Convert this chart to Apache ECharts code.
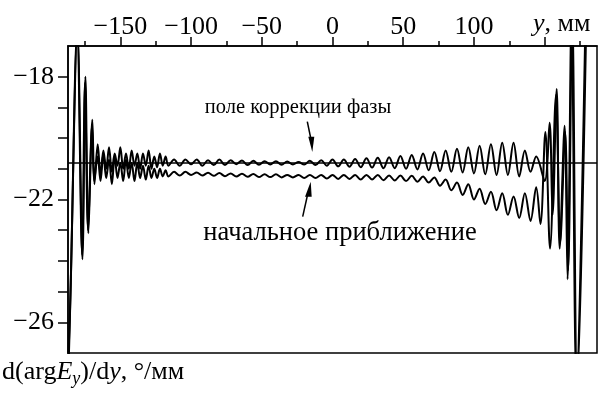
<!DOCTYPE html>
<html>
<head>
<meta charset="utf-8">
<script src="https://cdn.jsdelivr.net/npm/echarts@6/dist/echarts.min.js"></script>
<style>html,body{margin:0;padding:0;background:#fff}#c{width:598px;height:393px}</style>
</head>
<body>
<div id="c"></div>
<script>
// upper curve: "поле коррекции фазы"
const xA = [-188,-186.7,-185.3,-180.3,-176.8,-174.7,-172.6,-169.8,-168.3,
  -166,-164,-162,-160,-158,-156,-154,-152,-150,-148,-146,-144,-142,-140,-138,-136,-134,-132,-130,-128,-126,-124,-122,-120,-118,-116,
  -112,-108,-104,-100,-96,-92,-88,-84,-80,-76,-72,-68,-64,-60,-56,-52,-48,-44,-40,-36,-32,-28,-24,-20,-16,-12,-8,-4,
  0,4,8,12,16,20,24,28,32,36,40,44,48,52,56,60,64,68,72,76,80,84,88,92,96,100,104,108,112,116,120,124,128,132,136,140,144,
  150,153.5,155.6,158.5,160.6,164.1,166.2,169,172.5,178.9];
const yA = [-28.5,-27.5,-25.2,-16.5,-23.95,-18.0,-23.1,-19.4,-21.5,
  -20.2,-21.2,-20.4,-21.0,-20.3,-21.1,-20.5,-20.9,-20.3,-21.0,-20.5,-21.0,-20.4,-20.9,-20.5,-21.0,-20.5,-20.9,-20.4,-21.0,-20.6,-20.95,-20.5,-20.9,-20.6,-20.9,
  -20.7,-20.9,-20.7,-20.85,-20.7,-20.9,-20.72,-20.88,-20.7,-20.88,-20.72,-20.85,-20.73,-20.88,-20.74,-20.87,-20.75,-20.86,-20.75,-20.87,-20.76,-20.86,-20.78,-20.86,-20.74,-20.88,-20.72,-20.9,
  -20.7,-20.92,-20.7,-20.93,-20.68,-20.95,-20.66,-20.96,-20.64,-20.98,-20.62,-20.98,-20.58,-21.0,-20.55,-21.02,-20.5,-21.05,-20.45,-21.08,-20.4,-21.1,-20.35,-21.12,-20.3,-21.15,-20.25,-21.18,-20.2,-21.2,-20.15,-21.2,-20.15,-21.25,-20.4,-21.1,-20.6,
  -21.4,-19.5,-22.5,-18.4,-23.6,-19.6,-24.6,-16.0,-28.0,-16.0];
// lower curve: "начальное приближение"
const xB = [-188,-185.5,-180.5,-177,-175,-172.8,-170,-168.5,
  -166,-164,-162,-160,-158,-156,-154,-152,-150,-148,-146,-144,-142,-140,-138,-136,-134,-132,-130,-128,-126,-124,-122,-120,-118,-116,
  -112,-108,-104,-100,-96,-92,-88,-84,-80,-76,-72,-68,-64,-60,-56,-52,-48,-44,-40,-36,-32,-28,-24,-20,-16,-12,-8,-4,
  0,4,8,12,16,20,24,28,32,36,40,44,48,52,56,60,64,68,72,76,80,84,88,92,96,100,104,108,112,116,120,124,128,132,136,140,144,
  147,150.5,153.8,158,161,164.5,166.6,169.5,173,179.5];
const yB = [-28.5,-25.5,-16.5,-23.8,-18.2,-23.0,-19.6,-21.4,
  -20.6,-21.4,-20.5,-21.3,-20.7,-21.5,-20.6,-21.3,-20.8,-21.4,-20.7,-21.3,-20.8,-21.4,-20.8,-21.3,-20.9,-21.35,-20.9,-21.3,-21.0,-21.3,-21.0,-21.25,-21.05,-21.25,
  -21.1,-21.22,-21.1,-21.2,-21.12,-21.22,-21.13,-21.23,-21.14,-21.24,-21.15,-21.25,-21.16,-21.26,-21.17,-21.27,-21.18,-21.27,-21.18,-21.28,-21.2,-21.28,-21.2,-21.3,-21.2,-21.3,-21.2,-21.32,
  -21.2,-21.33,-21.2,-21.33,-21.2,-21.35,-21.2,-21.35,-21.2,-21.37,-21.22,-21.38,-21.22,-21.4,-21.23,-21.42,-21.25,-21.45,-21.28,-21.55,-21.35,-21.7,-21.45,-21.85,-21.5,-22.0,-21.65,-22.15,-21.75,-22.35,-21.8,-22.5,-21.9,-22.6,-21.8,-22.7,-21.6,
  -22.8,-19.8,-23.6,-18.6,-23.4,-19.8,-24.3,-16.0,-28.0,-16.0];
const refLevel = -20.8;
const xMajor = [-150,-100,-50,0,50,100,150];
const xLabels = [-150,-100,-50,0,50,100];
const xMinor = [-175,-125,-75,-25,25,75,125,175];
const yTicks = [-26,-25,-24,-23,-22,-21,-20,-19,-18];
const yLabels = [-26,-22,-18];

const FONT = 'Liberation Serif';
const minus = v => String(v).replace('-', '\u2212');
const chart = echarts.init(document.getElementById('c'), null, {renderer:'canvas'});
const pairs = (xs, ys) => xs.map((x, i) => [x, ys[i]]);
chart.setOption({
  animation: false,
  backgroundColor: '#fff',
  grid: {left: 68, right: 1, top: 46, bottom: 40, show: true, borderColor: '#000', borderWidth: 1.5, backgroundColor: 'transparent'},
  xAxis: [{
    type: 'value', position: 'top', min: -187, max: 187,
    axisLine: {show: true, onZero: false, lineStyle: {color: '#000', width: 1.5}},
    axisTick: {show: true, length: 9, customValues: xMajor, lineStyle: {color: '#000', width: 1.5}},
    axisLabel: {customValues: xLabels, formatter: minus, fontFamily: FONT, fontSize: 26, color: '#000', margin: 6},
    splitLine: {show: false}
  }, {
    type: 'value', position: 'top', min: -187, max: 187,
    axisLine: {show: false, onZero: false},
    axisTick: {show: true, length: 5, customValues: xMinor, lineStyle: {color: '#000', width: 1.5}},
    axisLabel: {show: false}, splitLine: {show: false}
  }],
  yAxis: {
    type: 'value', position: 'left', min: -27, max: -17,
    axisLine: {show: true, onZero: false, lineStyle: {color: '#000', width: 1.5}},
    axisTick: {show: true, length: 10, customValues: yTicks, lineStyle: {color: '#000', width: 1.5}},
    axisLabel: {customValues: yLabels, formatter: minus, fontFamily: FONT, fontSize: 26, color: '#000', margin: 14},
    splitLine: {show: false}
  },
  series: [{
    type: 'line', xAxisIndex: 0, data: pairs(xA, yA), symbol: 'none', smooth: 0.35,
    lineStyle: {color: '#000', width: 2},
    markLine: {silent: true, symbol: 'none', label: {show: false}, lineStyle: {color: '#000', width: 1.5, type: 'solid'}, data: [{yAxis: refLevel}]}
  }, {
    type: 'line', xAxisIndex: 0, data: pairs(xB, yB), symbol: 'none', smooth: 0.35,
    lineStyle: {color: '#000', width: 2}
  }],
  graphic: [
    {type: 'text', x: 298, y: 108, style: {text: 'поле коррекции фазы', fontFamily: FONT, fontSize: 20.5, fill: '#000', align: 'center', verticalAlign: 'middle'}},
    {type: 'text', x: 340, y: 233, style: {text: 'начальное приближение', fontFamily: FONT, fontSize: 26.5, fill: '#000', align: 'center', verticalAlign: 'middle'}},
    {type: 'text', x: 533, y: 24, style: {text: '{i|y}, мм', fontFamily: FONT, fontSize: 26, fill: '#000', align: 'left', verticalAlign: 'middle', rich: {i: {fontFamily: FONT, fontSize: 26, fontStyle: 'italic', fill: '#000'}}}},
    {type: 'text', x: 2, y: 372, style: {text: 'd(arg{i|E}{sub|y})/d{i|y}, °/мм', fontFamily: FONT, fontSize: 26, fill: '#000', align: 'left', verticalAlign: 'middle',
      rich: {i: {fontFamily: FONT, fontSize: 26, fontStyle: 'italic', fill: '#000'}, sub: {fontFamily: FONT, fontSize: 18, fontStyle: 'italic', fill: '#000', padding: [14, 0, 0, 0]}}}},
    {type: 'polyline', shape: {points: [[307.3, 121.7], [310.7, 138]]}, style: {stroke: '#000', lineWidth: 1.5}},
    {type: 'polygon', shape: {points: [[308.3, 136.7], [314.3, 136.7], [312.3, 152]]}, style: {fill: '#000'}},
    {type: 'polyline', shape: {points: [[302.7, 216.7], [307.5, 195]]}, style: {stroke: '#000', lineWidth: 1.5}},
    {type: 'polygon', shape: {points: [[305, 196.7], [311.7, 196.7], [310.7, 181.7]]}, style: {fill: '#000'}}
  ]
});
</script>
</body>
</html>
